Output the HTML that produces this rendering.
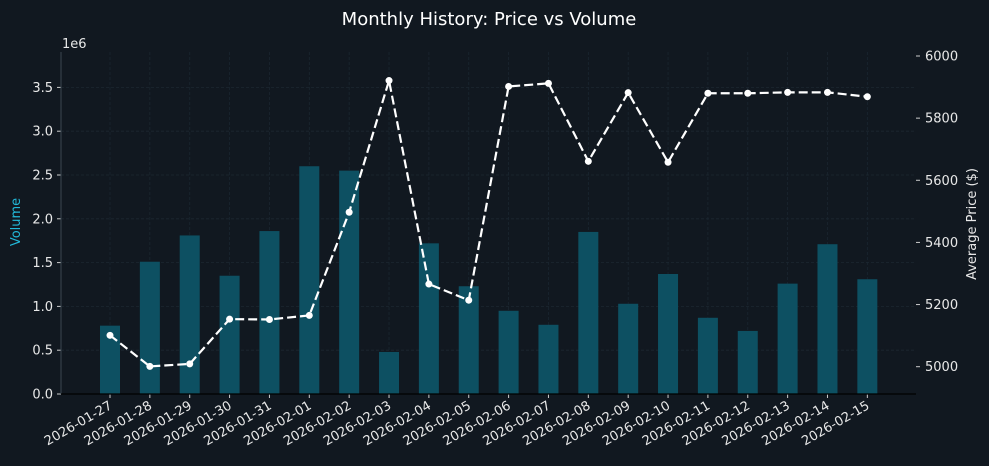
<!DOCTYPE html>
<html><head><meta charset="utf-8"><style>
html,body{margin:0;padding:0;background:#111820;}
svg{display:block;font-family:"DejaVu Sans","Liberation Sans",sans-serif;}
</style></head><body>
<svg id="chart" width="989" height="466" viewBox="0 0 989 466" xmlns="http://www.w3.org/2000/svg">
<rect width="989" height="466" fill="#111820"/>
<text x="489" y="25" text-anchor="middle" fill="#ffffff" font-size="18">Monthly History: Price vs Volume</text>
<text x="62" y="48" fill="#e8e8e8" font-size="13">1e6</text>
<text transform="translate(20,222) rotate(-90)" text-anchor="middle" fill="#22b8d8" font-size="13">Volume</text>
<text transform="translate(976,224) rotate(-90)" text-anchor="middle" fill="#e8e8e8" font-size="13">Average Price ($)</text>
<g id="grid"></g><g id="bars"></g><g id="axes"></g><g id="line"></g>
</svg>
<script>
const categories=["2026-01-27","2026-01-28","2026-01-29","2026-01-30","2026-01-31","2026-02-01","2026-02-02","2026-02-03","2026-02-04","2026-02-05","2026-02-06","2026-02-07","2026-02-08","2026-02-09","2026-02-10","2026-02-11","2026-02-12","2026-02-13","2026-02-14","2026-02-15"];
const volumes=[0.78,1.51,1.81,1.35,1.86,2.60,2.55,0.48,1.72,1.23,0.95,0.79,1.85,1.03,1.37,0.87,0.72,1.26,1.71,1.31];
const prices=[5101,5001,5009,5153,5152,5165,5497,5921,5266,5214,5902,5912,5661,5882,5658,5880,5880,5883,5883,5869];
const volTicks=[0,0.5,1.0,1.5,2.0,2.5,3.0,3.5];
const priceTicks=[5000,5200,5400,5600,5800,6000];
const NS="http://www.w3.org/2000/svg";
const L=61,R=916,T=52,B=394;
const x=i=>110+i*39.86;
const yv=v=>B-v*87.6;
const yp=p=>366.7-(p-5000)*0.3107;
function mk(tag,attrs,parent){const e=document.createElementNS(NS,tag);for(const k in attrs)e.setAttribute(k,attrs[k]);document.getElementById(parent).appendChild(e);return e;}
volTicks.forEach(t=>{
  if(t>0){const g=mk('line',{x1:L,x2:R,y1:yv(t),y2:yv(t),stroke:'#1c2731','stroke-width':0.8,'stroke-dasharray':'3,2'},'grid');
  
  }
  const tk=mk('line',{x1:L-4,x2:L,y1:yv(t),y2:yv(t),stroke:'#cccccc'},'axes');
  
  
  const tx=mk('text',{x:L-8,y:yv(t)+4.5,'text-anchor':'end',fill:'#e8e8e8','font-size':13},'axes');
  tx.textContent=t.toFixed(1);
  
  
});
priceTicks.forEach(t=>{
  const tk=mk('line',{x1:R,x2:R+4,y1:yp(t),y2:yp(t),stroke:'#cccccc'},'axes');
  
  
  const tx=mk('text',{x:R+9,y:yp(t)+4.5,fill:'#e8e8e8','font-size':13},'axes');
  tx.textContent=t;
  
  
});
categories.forEach((c,i)=>{
  const g=mk('line',{x1:x(i),x2:x(i),y1:T,y2:B,stroke:'#1a2630',"stroke-width":0.8,'stroke-dasharray':'3,2'},'grid');
  
  
  const b=mk('rect',{x:x(i)-10,y:yv(volumes[i]),width:20,height:B-yv(volumes[i]),fill:'#0d5062'},'bars');
  
  
  const tk=mk('line',{x1:x(i),x2:x(i),y1:B,y2:B+4,stroke:'#cccccc'},'axes');
  
  
  const tx=mk('text',{transform:`translate(${x(i)+3},${B+14}) rotate(-30)`,'text-anchor':'end',fill:'#e8e8e8','font-size':13},'axes');
  tx.textContent=c;
  
  
});
const ls=mk('line',{x1:L,x2:L,y1:T,y2:B,stroke:'#3a4650'},'axes');


const bs=mk('line',{x1:L,x2:R,y1:B,y2:B,stroke:'#000000','stroke-width':1.2},'axes');


const pl=mk('polyline',{points:prices.map((p,i)=>x(i)+','+yp(p)).join(' '),fill:'none',stroke:'#ffffff','stroke-width':2.2,'stroke-dasharray':'9,4'},'line');


prices.forEach((p,i)=>{
  const d=mk('circle',{cx:x(i),cy:yp(p),r:3.5,fill:'#ffffff'},'line');
  
  
});
</script>
</body></html>
